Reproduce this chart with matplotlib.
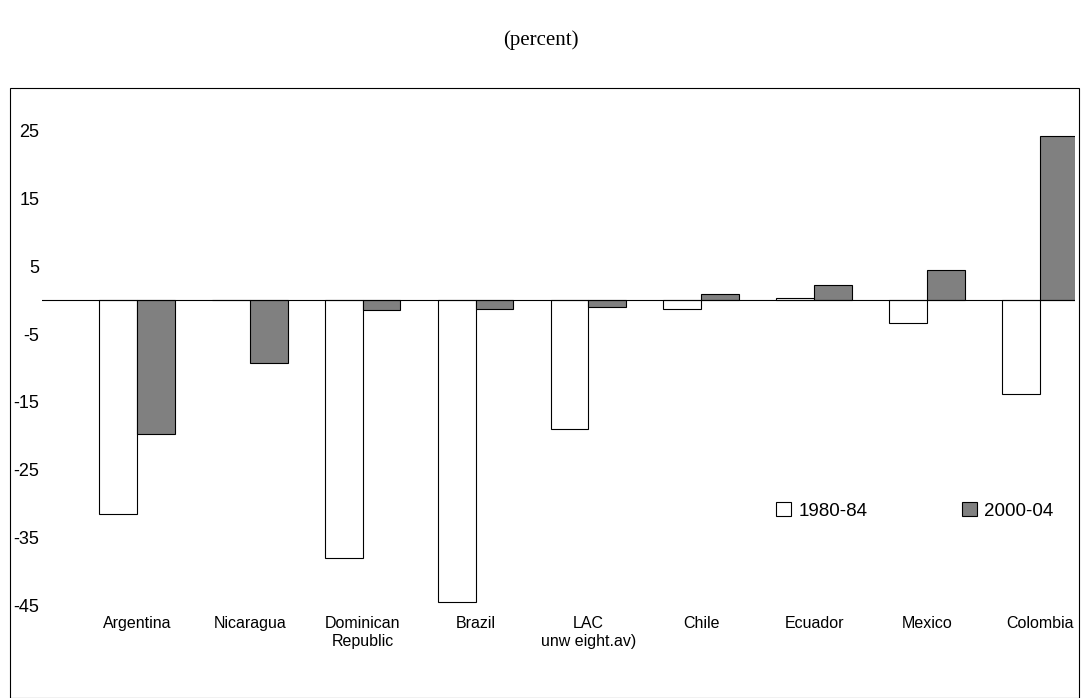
import matplotlib
matplotlib.use("Agg")
import matplotlib.pyplot as plt
import numpy as np
from matplotlib.patches import Rectangle

categories = ["Argentina", "Nicaragua", "Dominican\nRepublic", "Brazil", "LAC\nunw eight.av)",
              "Chile", "Ecuador", "Mexico", "Colombia"]
s1980 = [-31.5, 0, -38, -44.5, -19, -1.3, 0.3, -3.3, -13.8]
s2000 = [-19.7, -9.3, -1.5, -1.3, -1.0, 1.0, 2.3, 4.5, 24.3]
yticks = [-45, -35, -25, -15, -5, 5, 15, 25]

plt.rcParams['font.family'] = ['Liberation Sans', 'DejaVu Sans']
plt.rcParams['axes.unicode_minus'] = False
fig = plt.figure(figsize=(10.81, 6.98), dpi=100)
fig.patches.append(Rectangle((10/1081, 0), 1069/1081, 610/698, transform=fig.transFigure,
                             fill=False, edgecolor='black', linewidth=0.8))
fig.text(0.5, 1-40/698, "(percent)", ha='center', va='center', fontsize=15,
         family=['Liberation Serif', 'DejaVu Serif'])
ax = fig.add_axes([42/1081, 93/698, 1033/1081, 495/698])
x = np.arange(len(categories))
w = 0.335
ax.bar(x - w/2, s1980, w, color='white', edgecolor='black', linewidth=0.8, label='1980-84')
ax.bar(x + w/2, s2000, w, color='#808080', edgecolor='black', linewidth=0.8, label='2000-04')
ax.axhline(0, color='black', linewidth=0.8)
ax.set_xlim(-0.84, 8.31)
ax.set_ylim(-45, 28.1)
ax.set_yticks(yticks)
ax.tick_params(axis='y', length=0, labelsize=13, pad=2)
ax.set_xticks(x)
ax.set_xticklabels(categories, fontsize=11.5)
ax.tick_params(axis='x', length=0, pad=8)
for s in ax.spines.values():
    s.set_visible(False)
ax.legend(loc='center', bbox_to_anchor=(0.845, 0.19), ncol=2, frameon=False, fontsize=13.5,
          handlelength=0.8, handleheight=0.8, columnspacing=5.0, handletextpad=0.4)
fig.savefig("out.png", dpi=100)
